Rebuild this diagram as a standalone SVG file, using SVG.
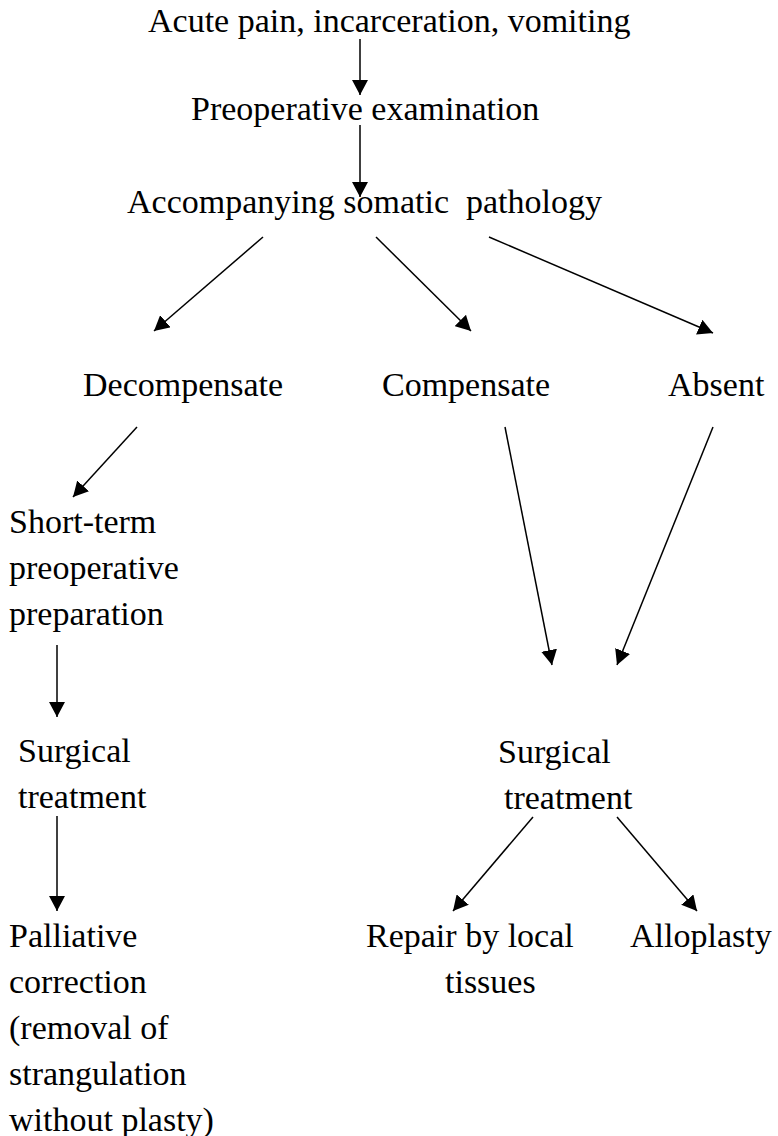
<svg xmlns="http://www.w3.org/2000/svg" width="778" height="1136" viewBox="0 0 778 1136">
<style>
.t { font-family: "Liberation Serif", "DejaVu Serif", serif; font-size: 34px; fill: #000; white-space: pre; }
.c { stroke: #000; stroke-width: 1.5; fill: none; marker-end: url(#ah); }
</style>
<defs>
<marker id="ah" viewBox="0 0 15 16" refX="15" refY="8" markerWidth="15" markerHeight="16" markerUnits="userSpaceOnUse" orient="auto">
<path d="M0,0 L15,8 L0,16 Z" fill="#000"/>
</marker>
</defs>
<rect width="778" height="1136" fill="#fff"/>
<g class="t" font-family="Liberation Serif, DejaVu Serif, serif" font-size="34">
<g id="n-acute"><text x="148" y="32">Acute pain, incarceration, vomiting</text></g>
<g id="n-preop"><text x="191" y="120">Preoperative examination</text></g>
<g id="n-somatic"><text x="127" y="213" xml:space="preserve">Accompanying somatic  pathology</text></g>
<g id="n-decomp"><text x="83" y="396">Decompensate</text></g>
<g id="n-comp"><text x="382" y="396">Compensate</text></g>
<g id="n-absent"><text x="668" y="396">Absent</text></g>
<g id="n-shortterm"><text x="9" y="533">Short-term</text><text x="9" y="579">preoperative</text><text x="9" y="625">preparation</text></g>
<g id="n-surg-left"><text x="18" y="762">Surgical</text><text x="18" y="808">treatment</text></g>
<g id="n-palliative"><text x="9" y="947">Palliative</text><text x="9" y="993">correction</text><text x="9" y="1039">(removal of</text><text x="9" y="1085">strangulation</text><text x="9" y="1131">without plasty)</text></g>
<g id="n-surg-right"><text x="498" y="763">Surgical</text><text x="504" y="809">treatment</text></g>
<g id="n-repair"><text x="366" y="947">Repair by local</text><text x="445" y="993">tissues</text></g>
<g id="n-alloplasty"><text x="630" y="947">Alloplasty</text></g>
</g>
<g id="connectors">
<line class="c" x1="360" y1="39" x2="360" y2="95"/>
<line class="c" x1="360" y1="125" x2="360" y2="197"/>
<line class="c" x1="263" y1="237" x2="154" y2="331"/>
<line class="c" x1="376" y1="237" x2="471" y2="331"/>
<line class="c" x1="489" y1="237" x2="713" y2="333"/>
<line class="c" x1="137" y1="427" x2="73" y2="497"/>
<line class="c" x1="57" y1="645" x2="57" y2="717"/>
<line class="c" x1="57" y1="816" x2="57" y2="911"/>
<line class="c" x1="505" y1="427" x2="552" y2="665"/>
<line class="c" x1="713" y1="427" x2="617" y2="665"/>
<line class="c" x1="533" y1="817" x2="453" y2="911"/>
<line class="c" x1="617" y1="817" x2="697" y2="911"/>
</g>
</svg>
